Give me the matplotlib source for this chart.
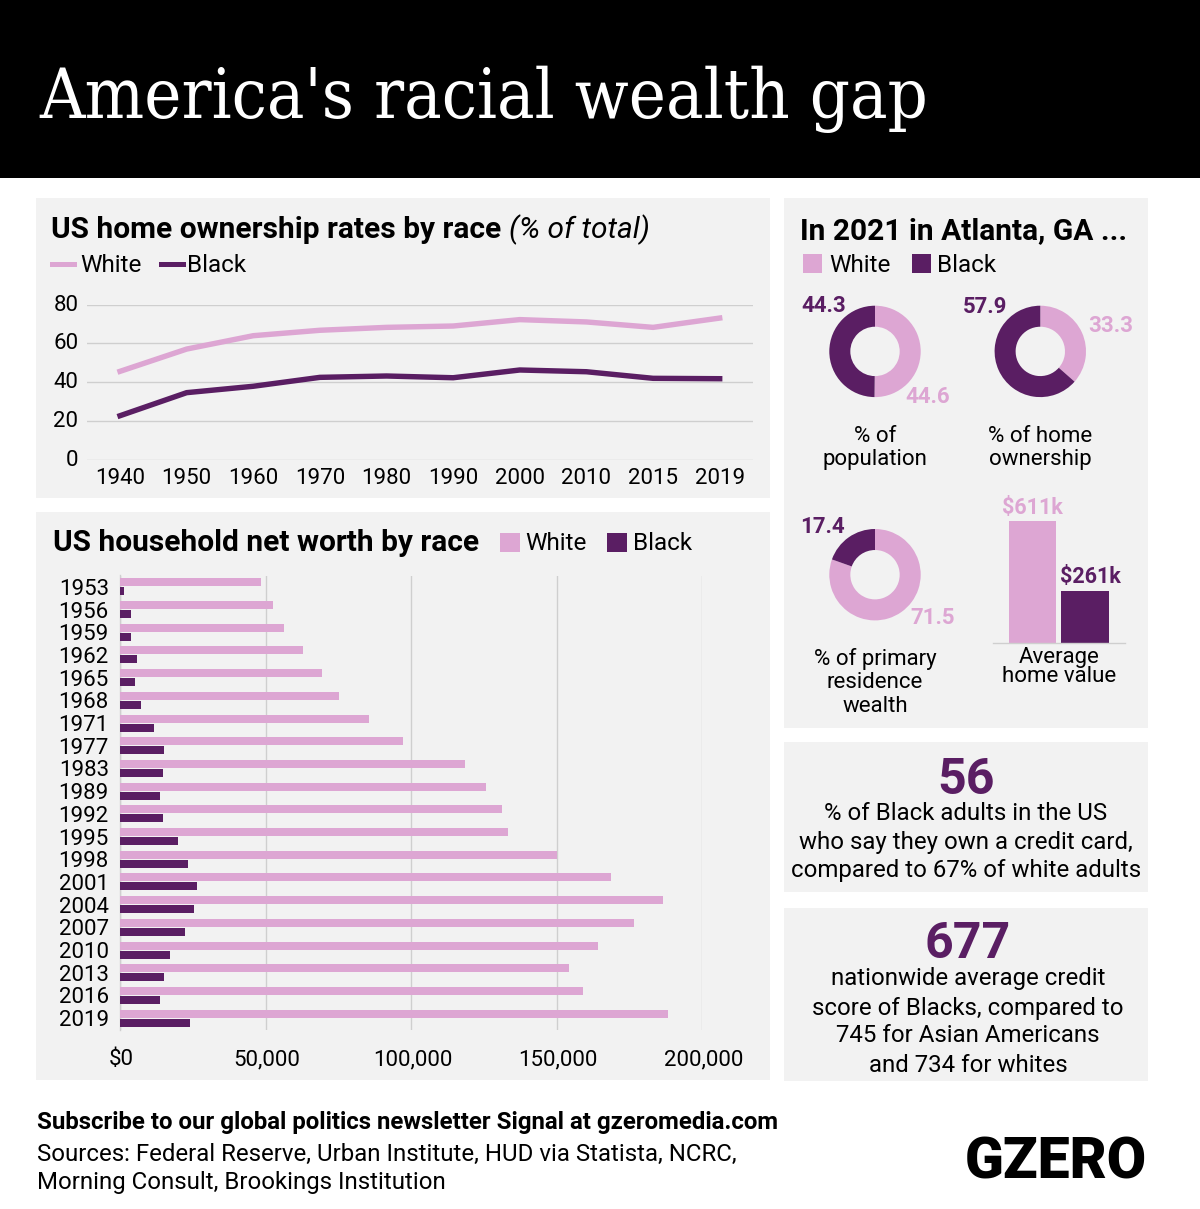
import matplotlib
matplotlib.use("Agg")
import matplotlib.pyplot as plt
from matplotlib.patches import Rectangle
from matplotlib.transforms import ScaledTranslation
import numpy as np

# colours
WHITE_C = "#DDA6D3"
BLACK_C = "#5A1E63"
PANEL = "#F2F2F2"
GRID = "#CFCFCF"

plt.rcParams['font.family'] = ['Roboto', 'DejaVu Sans']

# home ownership
own_years = ["1940", "1950", "1960", "1970", "1980", "1990", "2000", "2010", "2015", "2019"]
own_white = [45.6, 57.1, 64.0, 66.8, 68.3, 69.0, 72.3, 71.1, 68.3, 73.1]
own_black = [22.7, 34.6, 37.9, 42.5, 43.2, 42.3, 46.3, 45.4, 42.0, 41.8]

# net worth
worth_years = ["1953", "1956", "1959", "1962", "1965", "1968", "1971", "1977", "1983", "1989",
               "1992", "1995", "1998", "2001", "2004", "2007", "2010", "2013", "2016", "2019"]
worth_white = [48300, 52700, 56500, 63000, 69300, 75400, 85700, 97100, 118600, 125700,
               131300, 133200, 150000, 168700, 186500, 176500, 164200, 154300, 159200, 188200]
worth_black = [1400, 3700, 3800, 5800, 5300, 7200, 11700, 15000, 14900, 13900,
               14900, 19900, 23300, 26400, 25400, 22400, 17200, 15200, 13900, 24100]

# Atlanta
pop_share = [44.6, 44.3]
home_share = [33.3, 57.9]
wealth_share = [71.5, 17.4]
home_value = [611, 261]

W, H = 1200, 1209
fig = plt.figure(figsize=(W / 100, H / 100), dpi=100, facecolor="white")

# overlay in pixel coords for panels and text
bg = fig.add_axes([0, 0, 1, 1], zorder=0)
bg.set_xlim(0, W)
bg.set_ylim(H, 0)
bg.axis("off")

def box(x0, y0, x1, y1, color):
    bg.add_patch(Rectangle((x0, y0), x1 - x0, y1 - y0, color=color, lw=0))

# y is nudged 2px, the centre of the text box sits a bit above the reference's
def txt(x, y, s, size, ha="left", color="black", weight="normal", **kw):
    bg.text(x, y + 2, s, fontsize=size, ha=ha, va="center", color=color, fontweight=weight, **kw)

def px_axes(x0, y0, x1, y1):
    ax = fig.add_axes([x0 / W, 1 - y1 / H, (x1 - x0) / W, (y1 - y0) / H], zorder=2)
    ax.patch.set_alpha(0)
    return ax

def shift_labels(labels, dx, dy):
    for lab in labels:
        lab.set_transform(lab.get_transform() + ScaledTranslation(dx / 100, dy / 100, fig.dpi_scale_trans))

box(0, 0, W, 178, "black")
box(36, 198, 770, 498, PANEL)
box(36, 512, 770, 1080, PANEL)
box(784, 198, 1148, 728, PANEL)
box(784, 742, 1148, 892, PANEL)
box(784, 908, 1148, 1081, PANEL)

bg.text(39, 99, "America's racial wealth gap", fontsize=50.4, color="white", va="center",
        family=["DejaVu Serif"], stretch="condensed")

# line chart
txt(51, 228, "US home ownership rates by race", 21.5, weight="bold")
txt(509, 228, "(% of total)", 21.5, style="italic")
bg.plot([52, 74], [264, 264], color=WHITE_C, lw=3.6)
txt(80, 263, "White", 17.5)
bg.plot([161, 183], [264, 264], color=BLACK_C, lw=3.6)
txt(187, 263, "Black", 17.5)

ax = px_axes(86.7, 304.7, 753, 459.7)
x = np.arange(len(own_years))
ax.plot(x, own_white, color=WHITE_C, lw=3.9, solid_capstyle="projecting", solid_joinstyle="miter")
ax.plot(x, own_black, color=BLACK_C, lw=3.9, solid_capstyle="projecting", solid_joinstyle="miter")
ax.set_xlim(-0.5, 9.5)
ax.set_ylim(0, 80)
ax.set_xticks(x, own_years)
ax.set_yticks([0, 20, 40, 60, 80])
ax.grid(axis="y", color=GRID, lw=1.0)
ax.set_axisbelow(True)
ax.tick_params(length=0, labelsize=16, labelcolor="black")
ax.tick_params(axis="x", pad=6)
ax.tick_params(axis="y", pad=6)
shift_labels(ax.get_yticklabels(), 0, 2)
for s in ax.spines.values():
    s.set_visible(False)

# net worth chart
txt(53, 541, "US household net worth by race", 21.5, weight="bold")
box(500, 533, 520, 552, WHITE_C)
txt(525, 542, "White", 17.5)
box(607, 533, 627, 552, BLACK_C)
txt(633, 542, "Black", 17.5)

ax2 = px_axes(120, 575.5, 702, 1029.5)
y = np.arange(len(worth_years))
ax2.barh(y - 0.2, worth_white, height=0.352, color=WHITE_C, zorder=3)
ax2.barh(y + 0.2, worth_black, height=0.352, color=BLACK_C, zorder=3)
ax2.set_xlim(0, 200000)
ax2.set_ylim(len(worth_years) - 0.5, -0.5)
ax2.set_yticks(y, worth_years)
ax2.set_xticks([0, 50000, 100000, 150000, 200000], ["$0", "50,000", "100,000", "150,000", "200,000"])
ax2.grid(axis="x", color=GRID, lw=1.0)
ax2.set_axisbelow(True)
ax2.tick_params(length=0, labelsize=16, labelcolor="black")
ax2.tick_params(axis="x", pad=14)
ax2.tick_params(axis="y", pad=8)
shift_labels(ax2.get_xticklabels(), 1.5, 0)
for s in ["top", "right", "bottom"]:
    ax2.spines[s].set_visible(False)
ax2.spines["left"].set_color(GRID)
ax2.spines["left"].set_linewidth(1.0)

# Atlanta panel
txt(800, 229, "In 2021 in Atlanta, GA ...", 21.5, weight="bold")
box(803, 254, 822, 273, WHITE_C)
txt(829, 263, "White", 17.5)
box(912, 254, 931, 273, BLACK_C)
txt(937, 263, "Black", 17.5)

def donut(cx, cy, vals):
    a = px_axes(cx - 45.7, cy - 45.7, cx + 45.7, cy + 45.7)
    a.pie(vals, colors=[WHITE_C, BLACK_C], startangle=90, counterclock=False,
          radius=1, wedgeprops={"width": 0.46, "linewidth": 0})
    a.set_xlim(-1, 1)
    a.set_ylim(-1, 1)
    return a

donut(875, 351.4, pop_share)
donut(1040.3, 351.4, home_share)
donut(875, 574.7, wealth_share)

txt(824, 304, f"{pop_share[1]}", 16, ha="center", color=BLACK_C, weight="bold")
txt(927.5, 395, f"{pop_share[0]}", 16, ha="center", color=WHITE_C, weight="bold")
txt(985.5, 305, f"{home_share[1]}", 16, ha="center", color=BLACK_C, weight="bold")
txt(1110.5, 324, f"{home_share[0]}", 16, ha="center", color=WHITE_C, weight="bold")
txt(822.5, 525, f"{wealth_share[1]}", 16, ha="center", color=BLACK_C, weight="bold")
txt(932.5, 616, f"{wealth_share[0]}", 16, ha="center", color=WHITE_C, weight="bold")

txt(875, 434, "% of", 16, ha="center")
txt(875, 458, "population", 16, ha="center")
txt(1040, 434, "% of home", 16, ha="center")
txt(1040, 458, "ownership", 16, ha="center")
txt(875, 657, "% of primary", 16, ha="center")
txt(875, 681, "residence", 16, ha="center")
txt(875, 705, "wealth", 16, ha="center")
txt(1059, 665, "Average\nhome value", 16, ha="center", linespacing=0.92)

ax3 = px_axes(993, 520.6, 1124.7, 643)
ax3.bar([0, 1], home_value, width=0.906, color=[WHITE_C, BLACK_C])
ax3.set_xlim(-0.759, 1.759)
ax3.set_ylim(0, home_value[0])
ax3.set_xticks([])
ax3.set_yticks([])
for s in ["top", "right", "left"]:
    ax3.spines[s].set_visible(False)
ax3.spines["bottom"].set_color(GRID)
ax3.spines["bottom"].set_linewidth(1.0)
txt(1032.5, 506, f"${home_value[0]}k", 15.5, ha="center", color=WHITE_C, weight="bold")
txt(1090, 575, f"${home_value[1]}k", 15.5, ha="center", color=BLACK_C, weight="bold")

# stat boxes
txt(966, 779, "56", 36, ha="center", color=BLACK_C, weight="bold")
txt(966, 812, "% of Black adults in the US", 17.3, ha="center")
txt(966, 841, "who say they own a credit card,", 17.3, ha="center")
txt(966, 869, "compared to 67% of white adults", 17.3, ha="center")

txt(968, 943, "677", 36, ha="center", color=BLACK_C, weight="bold")
txt(968, 977, "nationwide average credit", 17.3, ha="center")
txt(968, 1006, "score of Blacks, compared to", 17.3, ha="center")
txt(968, 1034, "745 for Asian Americans", 17.3, ha="center")
txt(968, 1063, "and 734 for whites", 17.3, ha="center")

# footer
txt(37, 1121, "Subscribe to our global politics newsletter Signal at gzeromedia.com", 17.3, weight="bold")
txt(37, 1152, "Sources: Federal Reserve, Urban Institute, HUD via Statista, NCRC,", 17.3)
txt(37, 1181, "Morning Consult, Brookings Institution", 17.3)
txt(1056, 1161, "GZERO", 41, ha="center", weight="black")

fig.savefig("out.png", dpi=100, facecolor="white")
